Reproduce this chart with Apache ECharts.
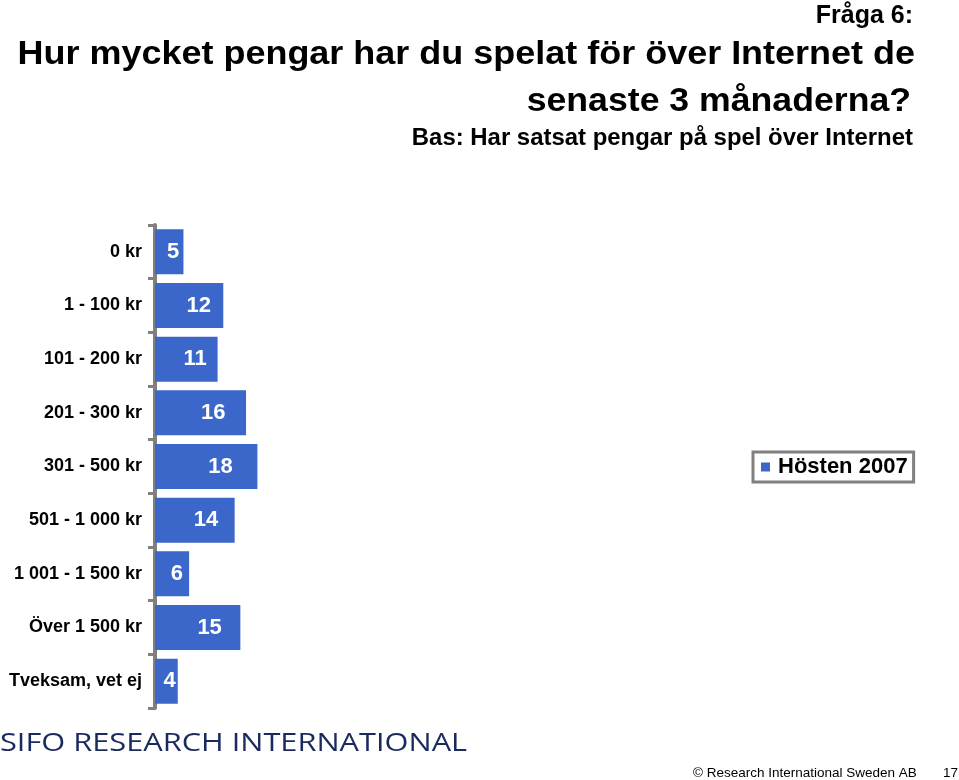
<!DOCTYPE html>
<html>
<head>
<meta charset="utf-8">
<script src="https://cdn.jsdelivr.net/npm/echarts@6/dist/echarts.min.js"></script>
<style>
  html, body { margin: 0; padding: 0; background: #fff; }
  #chart { width: 959px; height: 780px; }
</style>
</head>
<body>
<div id="chart"></div>
<script>
// categories (top to bottom) and shares in percent
const categories = ['0 kr', '1 - 100 kr', '101 - 200 kr', '201 - 300 kr', '301 - 500 kr',
  '501 - 1 000 kr', '1 001 - 1 500 kr', 'Över 1 500 kr', 'Tveksam, vet ej'];
const hosten2007 = [5, 12, 11, 16, 18, 14, 6, 15, 4];
const seriesName = 'Hösten 2007';

const chart = echarts.init(document.getElementById('chart'), null, { renderer: 'canvas' });

const font = 'Liberation Sans, Arial, sans-serif';

const option = {
  animation: false,
  textStyle: { fontFamily: font },
  legend: {
    data: [seriesName],
    left: 753, top: 452,
    orient: 'vertical',
    icon: 'rect',
    itemWidth: 9, itemHeight: 9,
    itemGap: 0,
    padding: [4, 6, 4, 8],
    borderColor: '#808080',
    borderWidth: 3,
    borderRadius: 0,
    textStyle: { fontSize: 22, color: '#000', fontWeight: 'bold', padding: [0, 0, 0, 3] },
  },
  grid: { left: 155, top: 225, width: 569, height: 483, containLabel: false },
  xAxis: {
    type: 'value',
    min: 0, max: 100,
    show: false,
  },
  yAxis: {
    type: 'category',
    data: categories,
    inverse: true,
    axisLine: { show: true, lineStyle: { color: '#808080', width: 4 } },
    axisTick: { show: true, length: 7, lineStyle: { color: '#808080', width: 3 } },
    axisLabel: { fontSize: 18, fontWeight: 'bold', color: '#000', margin: 13 },
  },
  series: [
    {
      name: seriesName,
      type: 'bar',
      data: hosten2007,
      barCategoryGap: '16%',
      itemStyle: { color: '#3a67c9' },
      label: {
        show: true,
        position: ['64%', '50%'],
        align: 'center',
        verticalAlign: 'middle',
        color: '#fff',
        fontSize: 22,
        fontWeight: 'bold',
      },
    },
  ],
  graphic: [
    {
      type: 'text', x: 913, y: 4,
      style: { text: 'Fråga 6:', align: 'right', font: 'bold 25px ' + font, fill: '#000' },
    },
    {
      type: 'text', x: 915, y: 38, scaleX: 1.09,
      style: { text: 'Hur mycket pengar har du spelat för över Internet de', align: 'right', font: 'bold 33px ' + font, fill: '#000' },
    },
    {
      type: 'text', x: 911, y: 85, scaleX: 1.08,
      style: { text: 'senaste 3 månaderna?', align: 'right', font: 'bold 33px ' + font, fill: '#000' },
    },
    {
      type: 'text', x: 913, y: 127, scaleX: 1.04,
      style: { text: 'Bas: Har satsat pengar på spel över Internet', align: 'right', font: 'bold 23px ' + font, fill: '#000' },
    },
    {
      type: 'text', x: 0, y: 731, scaleX: 1.23,
      style: {
        text: 'SIFO RESEARCH INTERNATIONAL',
        font: '25px Open Sans, sans-serif',
        fill: '#1b2a5c',
      },
    },
    {
      type: 'text', x: 693, y: 766,
      style: { text: '© Research International Sweden AB', font: '13.5px ' + font, fill: '#000' },
    },
    {
      type: 'text', x: 943, y: 766,
      style: { text: '17', font: '13.5px ' + font, fill: '#000' },
    },
  ],
};

chart.setOption(option);
</script>
</body>
</html>
